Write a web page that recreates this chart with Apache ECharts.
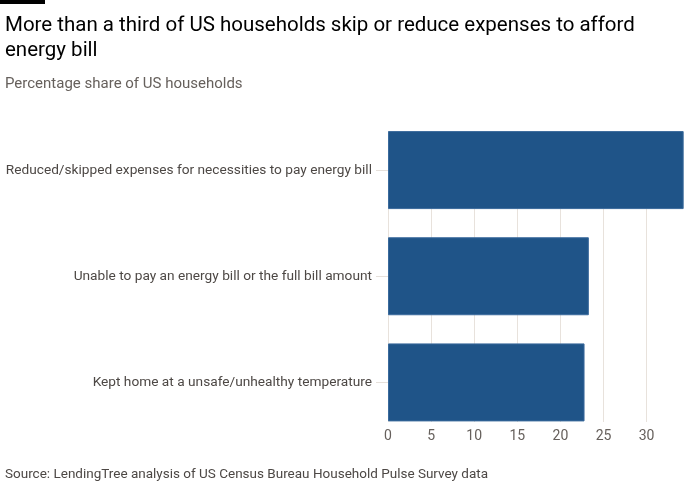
<!DOCTYPE html>
<html>
<head>
<meta charset="utf-8">
<script src="https://cdn.jsdelivr.net/npm/echarts@6/dist/echarts.min.js"></script>
<style>
html,body{margin:0;padding:0;background:#ffffff;}
#chart{width:700px;height:500px;}
</style>
</head>
<body>
<div id="chart"></div>
<script>
const categories = [
  'Reduced/skipped expenses for necessities to pay energy bill',
  'Unable to pay an energy bill or the full bill amount',
  'Kept home at a unsafe/unhealthy temperature'
];
const values = [34.3, 23.3, 22.8];
const axisMin = 0, axisMax = 35, axisStep = 5;

const FONT = 'Roboto';
const chart = echarts.init(document.getElementById('chart'), null, {renderer: 'canvas'});
const gridLeft = 388, gridRight = 10.3;

chart.setOption({
  backgroundColor: '#ffffff',
  animation: false,
  title: [
    {
      text: 'More than a third of US households skip or reduce expenses to afford\nenergy bill',
      left: 0, top: 8,
      textStyle: {fontFamily: FONT, fontSize: 20.5, fontWeight: 'normal', color: '#000000', lineHeight: 25}
    },
    {
      text: 'Percentage share of US households',
      left: 0, top: 70,
      textStyle: {fontFamily: FONT, fontSize: 15, fontWeight: 'normal', color: '#66605c', lineHeight: 18}
    },
    {
      text: 'Source: LendingTree analysis of US Census Bureau Household Pulse Survey data',
      left: 0, top: 462,
      textStyle: {fontFamily: FONT, fontSize: 13.5, fontWeight: 'normal', color: '#4d4845', lineHeight: 16}
    }
  ],
  graphic: [
    {type: 'rect', left: 0, top: 0, shape: {width: 45, height: 4}, style: {fill: '#000000'}}
  ],
  grid: [
    {left: gridLeft, right: gridRight, top: 131, height: 291, containLabel: false},
    {left: gridLeft, right: gridRight, top: 117, height: 318.5, containLabel: false}
  ],
  xAxis: [
    {
      type: 'value', gridIndex: 0, min: axisMin, max: axisMax, interval: axisStep,
      axisLine: {show: false}, axisTick: {show: false},
      axisLabel: {showMaxLabel: false, margin: 7, fontFamily: FONT, fontSize: 14, color: '#66605c'},
      splitLine: {show: true, showMaxLine: false, lineStyle: {color: '#e8e2dc', width: 1}}
    },
    {
      type: 'value', gridIndex: 1, min: axisMin, max: axisMax, interval: axisStep,
      show: false, splitLine: {show: false}
    }
  ],
  yAxis: [
    {type: 'category', gridIndex: 0, data: categories, inverse: true, show: false},
    {
      type: 'category', gridIndex: 1, data: categories, inverse: true,
      axisLine: {show: false},
      axisTick: {show: true, alignWithLabel: true, length: 12, lineStyle: {color: '#e6e0da'}},
      axisLabel: {margin: 16, fontFamily: FONT, fontSize: 13.7, color: '#4d4845'}
    }
  ],
  series: [
    {
      type: 'bar', xAxisIndex: 1, yAxisIndex: 1, data: values, barWidth: 78,
      itemStyle: {color: '#1f5488', borderColor: '#3a6a9c', borderWidth: 1}
    }
  ]
});
</script>
</body>
</html>
